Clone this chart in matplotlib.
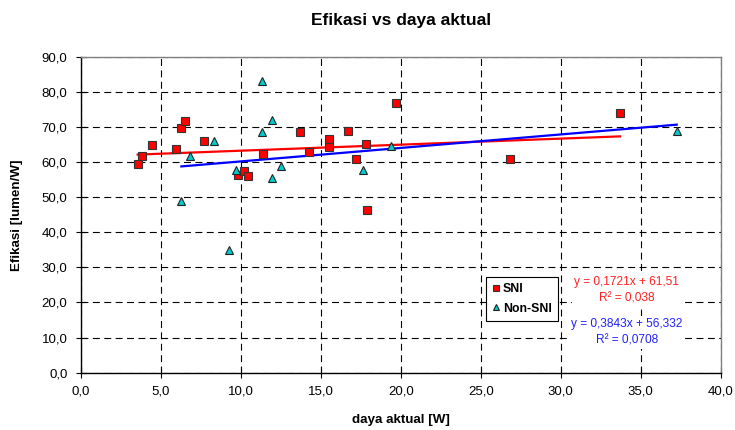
from __future__ import annotations

import matplotlib

matplotlib.use("Agg")
import matplotlib.pyplot as plt
from matplotlib.ticker import FuncFormatter, MultipleLocator


OUTPUT_FILE = "out.png"

# SNI lamps (red squares)
sni_daya = [3.56, 3.85, 4.46, 5.96, 6.29, 6.54, 7.69, 9.85, 10.19, 10.44, 11.42,
            13.71, 14.27, 15.52, 15.52, 16.69, 17.23, 17.85, 17.90, 19.69, 26.83, 33.71]
sni_efikasi = [59.5, 61.7, 64.9, 63.7, 69.8, 71.8, 65.9, 56.4, 57.5, 56.0, 62.3,
               68.5, 62.9, 66.7, 64.2, 68.7, 60.9, 65.0, 46.2, 76.7, 61.0, 74.0]

# Non-SNI lamps (cyan triangles)
non_sni_daya = [6.29, 6.83, 8.35, 9.29, 9.71, 11.33, 11.33, 11.94, 11.94, 12.52,
                17.63, 19.42, 37.25]
non_sni_efikasi = [48.8, 61.7, 65.9, 34.9, 57.6, 83.1, 68.5, 72.1, 55.5, 59.0,
                   57.8, 64.7, 68.8]

# linear trendlines as printed on the chart
sni_slope, sni_intercept = 0.1721, 61.51
non_sni_slope, non_sni_intercept = 0.3843, 56.332
sni_label = "y = 0,1721x + 61,51\nR\u00b2 = 0,038"
non_sni_label = "y = 0,3843x + 56,332\nR\u00b2 = 0,0708"


def comma_format(value, _pos):
    return f"{value:.1f}".replace(".", ",")


def trend_points(xs, slope, intercept):
    x_line = [min(xs), max(xs)]
    return x_line, [slope * x + intercept for x in x_line]


def add_trend_label(ax, y_pos, text, color):
    ax.text(0.853, y_pos, text, color=color, fontsize=8.6, ha="center", va="center",
            multialignment="center", linespacing=1.45, transform=ax.transAxes, zorder=4,
            bbox={"facecolor": "white", "edgecolor": "none", "pad": 1.5})


def main():
    plt.rcParams["font.family"] = ["Liberation Sans", "DejaVu Sans"]
    plt.rcParams["lines.scale_dashes"] = False

    fig = plt.figure(figsize=(7.35, 4.3), dpi=100)
    ax = fig.add_axes([0.1098, 0.1333, 0.8708, 0.7348])

    ax.set_xlim(0, 40)
    ax.set_ylim(0, 90)
    ax.xaxis.set_major_locator(MultipleLocator(5))
    ax.yaxis.set_major_locator(MultipleLocator(10))
    ax.xaxis.set_major_formatter(FuncFormatter(comma_format))
    ax.yaxis.set_major_formatter(FuncFormatter(comma_format))
    ax.tick_params(direction="inout", length=7, width=0.8, labelsize=9.5, pad=6)

    ax.grid(True, color="black", linewidth=0.8, linestyle=(0, (5, 3.2)))
    ax.set_axisbelow(True)
    for side in ("top", "right"):
        ax.spines[side].set_color("#808080")
        ax.spines[side].set_linewidth(1.0)
    for side in ("left", "bottom"):
        ax.spines[side].set_color("black")
        ax.spines[side].set_linewidth(1.0)

    x_line, y_line = trend_points(sni_daya, sni_slope, sni_intercept)
    ax.plot(x_line, y_line, color="#ff0000", linewidth=1.6, zorder=2)
    x_line, y_line = trend_points(non_sni_daya, non_sni_slope, non_sni_intercept)
    ax.plot(x_line, y_line, color="#0000ff", linewidth=1.6, zorder=2)

    ax.plot(sni_daya, sni_efikasi, linestyle="none", marker="s", markersize=5.5,
            markerfacecolor="#ff0000", markeredgecolor="#333333", markeredgewidth=0.8,
            label="SNI", zorder=3)
    ax.plot(non_sni_daya, non_sni_efikasi, linestyle="none", marker="^", markersize=6,
            markerfacecolor="#00cccc", markeredgecolor="#222222", markeredgewidth=0.8,
            label="Non-SNI", zorder=3)

    legend = ax.legend(loc="upper left", bbox_to_anchor=(0.634, 0.302), borderaxespad=0,
                       fancybox=False, framealpha=1, edgecolor="black", handlelength=0.5,
                       handletextpad=0.35, borderpad=0.5, labelspacing=0.6, markerscale=0.75,
                       prop={"weight": "bold", "size": 8.8})
    legend.get_frame().set_linewidth(0.8)
    legend.set_zorder(5)

    add_trend_label(ax, 0.2617, sni_label, "#ff2020")
    add_trend_label(ax, 0.1272, non_sni_label, "#2020ff")

    fig.text(0.545, 0.953, "Efikasi vs daya aktual", fontsize=12.5, fontweight="bold",
             ha="center", va="center")
    fig.text(0.545, 0.023, "daya aktual [W]", fontsize=9.6, fontweight="bold",
             ha="center", va="center")
    fig.text(0.023, 0.5, "Efikasi [lumen/W]", fontsize=9.6, fontweight="bold",
             ha="center", va="center", rotation=90)

    fig.savefig(OUTPUT_FILE, dpi=100)
    plt.close(fig)


if __name__ == "__main__":
    main()
